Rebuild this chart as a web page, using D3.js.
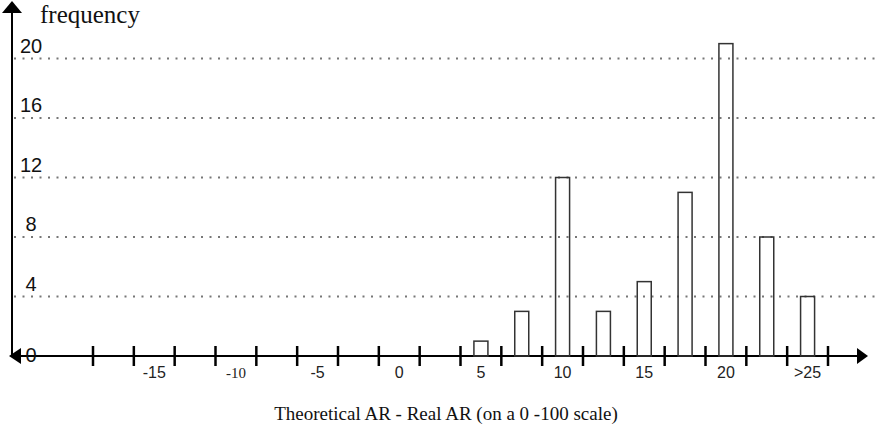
<!DOCTYPE html>
<html lang="en">
<head>
<meta charset="utf-8">
<script src="https://cdn.jsdelivr.net/npm/d3@7"></script>
<style>
  body { margin: 0; background: #fff; }
</style>
</head>
<body>
<svg width="876" height="425"></svg>
<script>
// bins of 2.5 points each, labelled every other one
var binLabels = ['', '-15', '', '-10', '', '-5', '', '0', '', '5', '', '10', '', '15', '', '20', '', '>25'];
var frequencies = [0, 0, 0, 0, 0, 0, 0, 0, 0, 1, 3, 12, 3, 5, 11, 21, 8, 4];
var yTicks = [0, 4, 8, 12, 16, 20];

var svg = d3.select('svg');
var x = d3.scaleBand().domain(d3.range(binLabels.length)).range([93, 828]).padding(0);
var y = d3.scaleLinear().domain([0, 20]).range([356, 58.5]);
var axisX = 12;

// dotted gridlines
svg.selectAll('line.grid')
    .data(yTicks.filter(d => d > 0))
    .enter().append('line')
    .attr('class', 'grid')
    .attr('x1', axisX + 2).attr('x2', 876)
    .attr('y1', d => y(d)).attr('y2', d => y(d))
    .style('stroke', '#777')
    .style('stroke-width', 2)
    .style('stroke-dasharray', '2,6.5');

// y axis
svg.append('line')
    .attr('x1', axisX).attr('x2', axisX)
    .attr('y1', y(0)).attr('y2', 10)
    .style('stroke', '#000').style('stroke-width', 2);
svg.append('path')
    .attr('d', `M${axisX},1 L${axisX - 10},13 L${axisX + 10},13 Z`)
    .style('fill', '#000');

// x axis
svg.append('line')
    .attr('x1', axisX).attr('x2', 860)
    .attr('y1', y(0)).attr('y2', y(0))
    .style('stroke', '#000').style('stroke-width', 2);
svg.append('path')
    .attr('d', `M868,${y(0)} L857,${y(0) - 8} L857,${y(0) + 8} Z`)
    .style('fill', '#000');
svg.append('path')
    .attr('d', `M9,${y(0)} L21,${y(0) - 8} L21,${y(0) + 8} Z`)
    .style('fill', '#000');

// bin boundary ticks
var bounds = d3.range(binLabels.length + 1).map(i => i < binLabels.length ? x(i) : x.range()[1]);
svg.selectAll('line.tick')
    .data(bounds)
    .enter().append('line')
    .attr('class', 'tick')
    .attr('x1', d => d).attr('x2', d => d)
    .attr('y1', y(0) - 10).attr('y2', y(0) + 10)
    .style('stroke', '#000').style('stroke-width', 2.5);

// bars
var barW = x.bandwidth() * 0.343;
svg.selectAll('rect.bar')
    .data(frequencies)
    .enter().append('rect')
    .attr('class', 'bar')
    .attr('x', (d, i) => x(i) + x.bandwidth() / 2 - barW / 2)
    .attr('y', d => y(d))
    .attr('width', barW)
    .attr('height', d => y(0) - y(d))
    .style('display', d => d > 0 ? null : 'none')
    .style('fill', 'none')
    .style('stroke', '#333')
    .style('stroke-width', 1.5);

// x labels
svg.selectAll('text.xlab')
    .data(binLabels)
    .enter().append('text')
    .attr('class', 'xlab')
    .attr('x', (d, i) => x(i) + x.bandwidth() / 2)
    .attr('y', 378)
    .attr('text-anchor', 'middle')
    .style('font-family', d => d === '-10' ? 'Liberation Serif' : 'Liberation Sans')
    .style('font-size', d => d === '-10' ? '15px' : '16px')
    .style('fill', '#222')
    .text(d => d);

// y labels
svg.selectAll('text.ylab')
    .data(yTicks)
    .enter().append('text')
    .attr('class', 'ylab')
    .attr('x', 31)
    .attr('y', d => d === 0 ? y(d) + 6 : y(d) - 6)
    .attr('text-anchor', 'middle')
    .style('font-family', 'Liberation Sans')
    .style('font-size', '20px')
    .style('fill', '#111')
    .text(d => d);

svg.append('text')
    .attr('x', 40).attr('y', 23)
    .style('font-family', 'Liberation Serif')
    .style('font-size', '25px')
    .style('fill', '#111')
    .text('frequency');

svg.append('text')
    .attr('x', 446).attr('y', 420)
    .attr('text-anchor', 'middle')
    .style('font-family', 'Liberation Serif')
    .style('font-size', '19px')
    .style('fill', '#111')
    .text('Theoretical AR - Real AR (on a 0 -100 scale)');
</script>
</body>
</html>
